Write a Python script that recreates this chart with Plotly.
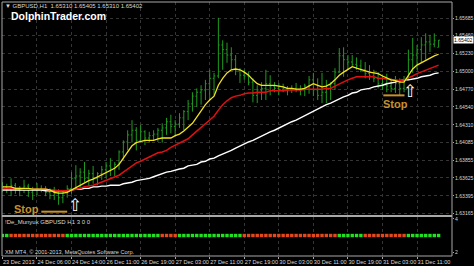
import plotly.graph_objects as go

# ---------------- data ----------------
bar_index = list(range(102))

open_ = [1.6349, 1.6351, 1.6348, 1.6353, 1.6347, 1.6349, 1.6352, 1.6344, 1.6347, 1.6349,
         1.6348, 1.6344, 1.6340, 1.6343, 1.6337, 1.6344, 1.6349, 1.6362, 1.6365, 1.6370,
         1.6362, 1.6368, 1.6362, 1.6368, 1.6373, 1.6378, 1.6375, 1.6380, 1.6396, 1.6409,
         1.6418, 1.6424, 1.6411, 1.6422, 1.6414, 1.6417, 1.6419, 1.6424, 1.6427, 1.6435,
         1.6429, 1.6432, 1.6440, 1.6448, 1.6458, 1.6468, 1.6473, 1.6476, 1.6484, 1.6491,
         1.6494, 1.6534, 1.6528, 1.6521, 1.6515, 1.6502, 1.6495, 1.6494, 1.6486, 1.6469,
         1.6476, 1.6478, 1.6484, 1.6481, 1.6478, 1.6476, 1.6478, 1.6476, 1.6478, 1.6476,
         1.6476, 1.6481, 1.6489, 1.6476, 1.6469, 1.6473, 1.6482, 1.6484, 1.6499, 1.6520,
         1.6515, 1.6512, 1.6509, 1.6507, 1.6502, 1.6497, 1.6494, 1.6491, 1.6484, 1.6482,
         1.6481, 1.6478, 1.6484, 1.6478, 1.6489, 1.6515, 1.6521, 1.6528, 1.6534, 1.6538,
         1.6535, 1.65310]

high = [1.6357, 1.6355, 1.6362, 1.6356, 1.6352, 1.6360, 1.6355, 1.6351, 1.6356, 1.6353,
        1.6352, 1.6349, 1.6351, 1.6348, 1.6347, 1.6353, 1.6370, 1.6379, 1.6375, 1.6383,
        1.6373, 1.6378, 1.6370, 1.6378, 1.6383, 1.6388, 1.6383, 1.6398, 1.6411, 1.6424,
        1.6437, 1.6428, 1.6431, 1.6424, 1.6422, 1.6424, 1.6427, 1.6433, 1.6440, 1.6444,
        1.6437, 1.6446, 1.6450, 1.6463, 1.6473, 1.6478, 1.6482, 1.6489, 1.6502, 1.6498,
        1.6569, 1.6540, 1.6537, 1.6531, 1.6521, 1.6504, 1.6502, 1.6499, 1.6491, 1.6482,
        1.6486, 1.6502, 1.6495, 1.6486, 1.6485, 1.6484, 1.6481, 1.6482, 1.6485, 1.6482,
        1.6484, 1.6494, 1.6498, 1.6491, 1.6498, 1.6489, 1.6486, 1.6504, 1.6530, 1.6531,
        1.6521, 1.6521, 1.6518, 1.6515, 1.6512, 1.6508, 1.6502, 1.6499, 1.6495, 1.6497,
        1.6491, 1.6494, 1.6491, 1.6494, 1.6528, 1.6543, 1.6534, 1.6544, 1.6549, 1.6547,
        1.6549, 1.65405]

low = [1.6344, 1.6343, 1.6339, 1.6342, 1.6339, 1.6343, 1.6338, 1.6334, 1.6340, 1.6344,
       1.6339, 1.6335, 1.6334, 1.6328, 1.6330, 1.6337, 1.6342, 1.6347, 1.6349, 1.6357,
       1.6352, 1.6355, 1.6353, 1.6360, 1.6362, 1.6365, 1.6365, 1.6373, 1.6386, 1.6398,
       1.6408, 1.6398, 1.6411, 1.6405, 1.6408, 1.6411, 1.6409, 1.6408, 1.6418, 1.6420,
       1.6418, 1.6427, 1.6424, 1.6437, 1.6448, 1.6454, 1.6457, 1.6463, 1.6463, 1.6469,
       1.6491, 1.6502, 1.6511, 1.6502, 1.6495, 1.6485, 1.6489, 1.6482, 1.6460, 1.6459,
       1.6463, 1.6463, 1.6469, 1.6473, 1.6469, 1.6473, 1.6469, 1.6472, 1.6473, 1.6469,
       1.6468, 1.6471, 1.6468, 1.6463, 1.6459, 1.6459, 1.6463, 1.6476, 1.6498, 1.6493,
       1.6502, 1.6506, 1.6502, 1.6499, 1.6491, 1.6489, 1.6486, 1.6478, 1.6476, 1.6473,
       1.6473, 1.6472, 1.6469, 1.6473, 1.6489, 1.6498, 1.6502, 1.6511, 1.6515, 1.6525,
       1.6531, 1.65310]

close = [1.6351, 1.6348, 1.6353, 1.6347, 1.6349, 1.6352, 1.6344, 1.6347, 1.6349, 1.6348,
         1.6344, 1.6340, 1.6343, 1.6337, 1.6344, 1.6349, 1.6362, 1.6365, 1.6370, 1.6362,
         1.6368, 1.6362, 1.6368, 1.6373, 1.6378, 1.6375, 1.6380, 1.6396, 1.6409, 1.6418,
         1.6424, 1.6411, 1.6422, 1.6414, 1.6417, 1.6419, 1.6424, 1.6427, 1.6435, 1.6429,
         1.6432, 1.6440, 1.6448, 1.6458, 1.6468, 1.6473, 1.6476, 1.6484, 1.6491, 1.6494,
         1.6534, 1.6528, 1.6521, 1.6515, 1.6502, 1.6495, 1.6494, 1.6486, 1.6469, 1.6476,
         1.6478, 1.6484, 1.6481, 1.6478, 1.6476, 1.6478, 1.6476, 1.6478, 1.6476, 1.6476,
         1.6481, 1.6489, 1.6476, 1.6469, 1.6473, 1.6482, 1.6484, 1.6499, 1.6520, 1.6515,
         1.6512, 1.6509, 1.6507, 1.6502, 1.6497, 1.6494, 1.6491, 1.6484, 1.6482, 1.6481,
         1.6478, 1.6484, 1.6478, 1.6489, 1.6515, 1.6521, 1.6528, 1.6534, 1.6538, 1.6535,
         1.6540, 1.65402]

ema_fast = [1.6351, 1.6351, 1.6351, 1.6349, 1.6349, 1.6349, 1.6349, 1.6348, 1.6348, 1.6348,
            1.6348, 1.6347, 1.6344, 1.6343, 1.6343, 1.6344, 1.6347, 1.6351, 1.6353, 1.6356,
            1.6359, 1.6361, 1.6364, 1.6366, 1.6369, 1.6373, 1.6375, 1.6380, 1.6388, 1.6396,
            1.6404, 1.6408, 1.6410, 1.6411, 1.6411, 1.6411, 1.6413, 1.6414, 1.6414, 1.6414,
            1.6417, 1.6419, 1.6423, 1.6428, 1.6433, 1.6441, 1.6449, 1.6457, 1.6463, 1.6468,
            1.6482, 1.6491, 1.6498, 1.6502, 1.6503, 1.6502, 1.6499, 1.6495, 1.6489, 1.6484,
            1.6482, 1.6482, 1.6482, 1.6482, 1.6481, 1.6480, 1.6478, 1.6478, 1.6477, 1.6477,
            1.6478, 1.6481, 1.6484, 1.6482, 1.6480, 1.6481, 1.6484, 1.6489, 1.6495, 1.6499,
            1.6503, 1.6506, 1.6504, 1.6502, 1.6500, 1.6499, 1.6498, 1.6497, 1.6494, 1.6491,
            1.6489, 1.6488, 1.6486, 1.6486, 1.6494, 1.6503, 1.6508, 1.6511, 1.6515, 1.6517,
            1.6520, 1.6522]

ema_mid = [1.6349, 1.6349, 1.6349, 1.6349, 1.6349, 1.6348, 1.6348, 1.6348, 1.6348, 1.6348,
           1.6348, 1.6347, 1.6347, 1.6346, 1.6346, 1.6346, 1.6347, 1.6348, 1.6349, 1.6351,
           1.6352, 1.6353, 1.6355, 1.6357, 1.6359, 1.6361, 1.6364, 1.6366, 1.6370, 1.6374,
           1.6378, 1.6382, 1.6384, 1.6387, 1.6389, 1.6392, 1.6395, 1.6396, 1.6398, 1.6402,
           1.6405, 1.6408, 1.6410, 1.6413, 1.6418, 1.6423, 1.6428, 1.6433, 1.6438, 1.6442,
           1.6450, 1.6457, 1.6462, 1.6466, 1.6468, 1.6469, 1.6471, 1.6472, 1.6472, 1.6473,
           1.6473, 1.6473, 1.6475, 1.6475, 1.6475, 1.6475, 1.6476, 1.6476, 1.6476, 1.6476,
           1.6477, 1.6477, 1.6477, 1.6477, 1.6477, 1.6478, 1.6478, 1.6481, 1.6484, 1.6486,
           1.6489, 1.6491, 1.6493, 1.6493, 1.6493, 1.6493, 1.6493, 1.6491, 1.6491, 1.6490,
           1.6489, 1.6489, 1.6488, 1.6489, 1.6491, 1.6494, 1.6497, 1.6499, 1.6502, 1.6503,
           1.6506, 1.6508]

ema_slow = [1.6347, 1.6347, 1.6347, 1.6347, 1.6347, 1.6347, 1.6347, 1.6347, 1.6347, 1.6347,
            1.6346, 1.6346, 1.6346, 1.6346, 1.6346, 1.6346, 1.6347, 1.6348, 1.6348, 1.6349,
            1.6349, 1.6351, 1.6351, 1.6352, 1.6352, 1.6353, 1.6353, 1.6353, 1.6355, 1.6356,
            1.6357, 1.6359, 1.6360, 1.6361, 1.6362, 1.6364, 1.6366, 1.6369, 1.6370, 1.6371,
            1.6373, 1.6374, 1.6375, 1.6378, 1.6379, 1.6380, 1.6383, 1.6384, 1.6387, 1.6388,
            1.6391, 1.6393, 1.6396, 1.6398, 1.6401, 1.6404, 1.6406, 1.6409, 1.6411, 1.6414,
            1.6417, 1.6419, 1.6422, 1.6424, 1.6427, 1.6429, 1.6432, 1.6435, 1.6437, 1.6440,
            1.6442, 1.6445, 1.6449, 1.6451, 1.6454, 1.6457, 1.6459, 1.6462, 1.6464, 1.6467,
            1.6469, 1.6472, 1.6473, 1.6476, 1.6477, 1.6478, 1.6480, 1.6481, 1.6482, 1.6484,
            1.6485, 1.6486, 1.6488, 1.6489, 1.6489, 1.6490, 1.6491, 1.6493, 1.6494, 1.6495,
            1.6497, 1.6498]

# indicator state per bar: G = up (green), R = down (red)
trend_state = ("GG" "RRRRRRRRRRRRR" "GGGGGGGGGGGGGGGGGGGGGG" "RRRR" "GGGGGGGGGGGGGGG"
               "RRRRRRRRRRRRRRRRRRRRRR" "GGGGGG" "RRRRRRRRRR" "GGGGGGGG")
indicator_level = 3
assert len(trend_state) == len(bar_index)

date_tick_idx = [0, 8, 16, 24, 32, 40, 48, 56, 64, 72, 80, 88, 96]
date_tick_text = ["23 Dec 2013", "24 Dec 06:00", "24 Dec 14:00", "26 Dec 11:00", "26 Dec 19:00",
                  "27 Dec 03:00", "27 Dec 11:00", "27 Dec 19:00", "30 Dec 03:00", "30 Dec 11:00",
                  "30 Dec 19:00", "31 Dec 03:00", "31 Dec 11:00"]

price_ticks = [1.65685, 1.65460, 1.65230, 1.65000, 1.64770, 1.64540, 1.64310,
               1.64085, 1.63855, 1.63625, 1.63395, 1.63165]
indicator_ticks = [4, 2]
last_price = 1.65402

# signal annotations (bar position, price)
stop_text_x = [5.6, 91.1]
stop_text_y = [1.6323, 1.6458]
stop_line_x0 = [9.0, 88.2]
stop_line_x1 = [15.0, 93.1]
stop_line_y = [1.6319, 1.6469]
arrow_x = [16.9, 94.4]
arrow_y = [1.6328, 1.6475]

# ---------------- figure ----------------
W, H = 474, 266
ML, MR, MT, MB = 2, 22, 2, 10
plot_h = H - MT - MB
main_dom = [(H - MB - 215) / plot_h, 1.0]
ind_dom = [0.0, (H - MB - 217) / plot_h]

GRID = "#353535"
AXC = "#a8a8a8"
TXT = "#d8d8d8"
FONT = "Liberation Sans"
GREEN_BAR = "#1f9c1f"
STOP_C = "#c8902c"

fig = go.Figure()

fig.add_trace(go.Ohlc(x=bar_index, open=open_, high=high, low=low, close=close,
                      increasing=dict(line=dict(color=GREEN_BAR, width=1)),
                      decreasing=dict(line=dict(color=GREEN_BAR, width=1)),
                      tickwidth=0.3, xaxis="x", yaxis="y", hoverinfo="skip"))

fig.add_trace(go.Scatter(x=bar_index, y=ema_slow, mode="lines",
                         line=dict(color="#ffffff", width=1.4), xaxis="x", yaxis="y"))
fig.add_trace(go.Scatter(x=bar_index, y=ema_mid, mode="lines",
                         line=dict(color="#e01010", width=1.5), xaxis="x", yaxis="y"))
fig.add_trace(go.Scatter(x=bar_index, y=ema_fast, mode="lines",
                         line=dict(color="#f2e21c", width=1.3), xaxis="x", yaxis="y"))

# stop lines
for x0, x1, yv in zip(stop_line_x0, stop_line_x1, stop_line_y):
    fig.add_trace(go.Scatter(x=[x0, x1], y=[yv, yv], mode="lines",
                             line=dict(color=STOP_C, width=2), xaxis="x", yaxis="y"))

# indicator squares
ind_colors = ["#22e022" if s == "G" else "#e2491c" for s in trend_state]
fig.add_trace(go.Scatter(x=bar_index, y=[indicator_level] * len(bar_index), mode="markers",
                         marker=dict(symbol="square", size=3.4, color=ind_colors, line=dict(width=0)),
                         xaxis="x2", yaxis="y2"))

annotations = []
for xv, yv in zip(stop_text_x, stop_text_y):
    annotations.append(dict(x=xv, y=yv, xref="x", yref="y", text="Stop", showarrow=False,
                            font=dict(family=FONT, size=11, color=STOP_C, weight="bold"),
                            xanchor="center", yanchor="middle"))
for xv, yv in zip(arrow_x, arrow_y):
    annotations.append(dict(x=xv, y=yv, xref="x", yref="y", text="\u21e7", showarrow=False,
                            font=dict(family="DejaVu Sans", size=17, color="#ffffff"),
                            xanchor="center", yanchor="middle"))


def px_text(text, xpx, ypx, size, color=TXT, family=FONT, weight="normal"):
    annotations.append(dict(x=0, y=1, xref="paper", yref="paper", xshift=xpx - ML,
                            yshift=-(ypx - MT), text=text, showarrow=False,
                            xanchor="left", yanchor="middle",
                            font=dict(family=family, size=size, color=color, weight=weight)))


px_text("\u25bc GBPUSD,H1  1.65310 1.65405 1.65310 1.65402", 3, 6, 6)
px_text("DolphinTrader.com", 9, 16, 10.5, color="#ffffff", weight="bold")
px_text("!De_Munyuk GBPUSD H1 3 0 0", 3, 222, 6)
px_text("XM MT4, \u00a9 2001-2013, MetaQuotes Software Corp.", 3, 252, 5.6)

annotations.append(dict(x=1, y=last_price, xref="paper", yref="y", xanchor="left",
                        yanchor="middle", text=f"{last_price:.5f}", showarrow=False,
                        bgcolor="#ffffff", borderpad=0, xshift=1,
                        font=dict(family=FONT, size=5.1, color="#000000")))

x_range = [-0.1, 104.1]
sep_y = (main_dom[0] + ind_dom[1]) / 2

fig.update_layout(
    template="none",
    width=W, height=H,
    margin=dict(l=ML, r=MR, t=MT, b=MB, pad=0),
    paper_bgcolor="#000000", plot_bgcolor="#000000",
    showlegend=False,
    xaxis=dict(domain=[0, 1], range=x_range, anchor="y", tickvals=date_tick_idx,
               showticklabels=False, ticks="", showgrid=True, gridcolor=GRID,
               griddash="dot", gridwidth=1, zeroline=False, showline=False,
               rangeslider=dict(visible=False), automargin=False),
    yaxis=dict(domain=main_dom, range=[1.63147, 1.65894], side="right", anchor="x",
               tickvals=price_ticks, ticktext=[f"{v:.5f}" for v in price_ticks],
               ticks="outside", ticklen=1, tickcolor=AXC,
               tickfont=dict(family=FONT, size=5.1, color=TXT),
               showgrid=True, gridcolor=GRID, griddash="dot", gridwidth=1,
               zeroline=False, showline=False, automargin=False),
    xaxis2=dict(domain=[0, 1], range=x_range, anchor="y2", matches="x",
                tickvals=date_tick_idx, ticktext=date_tick_text, tickangle=0,
                ticks="outside", ticklen=2, tickcolor=AXC,
                ticklabelposition="outside right", ticklabelstandoff=0,
                tickfont=dict(family=FONT, size=5.6, color=TXT),
                showgrid=True, gridcolor=GRID, griddash="dot", gridwidth=1,
                zeroline=False, showline=False, automargin=False),
    yaxis2=dict(domain=ind_dom, range=[1.76, 4.12], side="right", anchor="x2",
                tickvals=indicator_ticks, ticktext=[str(v) for v in indicator_ticks],
                ticks="outside", ticklen=1, tickcolor=AXC,
                tickfont=dict(family=FONT, size=5.1, color=TXT),
                showgrid=False, zeroline=False, showline=False, automargin=False),
    annotations=annotations,
    shapes=[
        dict(type="rect", xref="paper", yref="paper", x0=0, x1=1, y0=0, y1=1,
             line=dict(color=AXC, width=1), layer="above"),
        dict(type="line", xref="paper", yref="paper", x0=0, x1=1, y0=sep_y, y1=sep_y,
             line=dict(color=AXC, width=2), layer="above"),
    ],
)

fig.write_html("out.html")
